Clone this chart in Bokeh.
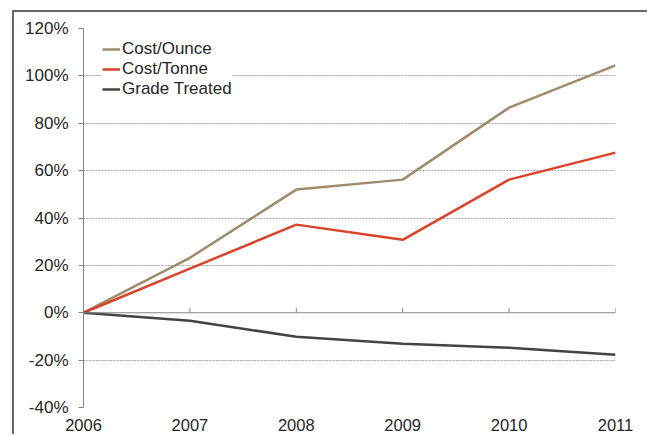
from bokeh.plotting import figure
from bokeh.models import Span, Legend, LegendItem, FixedTicker
from bokeh.embed import file_html
from bokeh.resources import INLINE

years = [2006, 2007, 2008, 2009, 2010, 2011]
cost_ounce = [0, 23.2, 52.0, 56.2, 86.6, 104.4]
cost_tonne = [0, 18.6, 37.2, 30.8, 56.2, 67.6]
grade_treated = [0, -3.4, -10.1, -13.1, -14.8, -17.7]
y_ticks = [-40, -20, 0, 20, 40, 60, 80, 100, 120]
y_tick_labels = {v: f"{v}%" for v in y_ticks}
series_names = ["Cost/Ounce", "Cost/Tonne", "Grade Treated"]
colors = ["#a08c6c", "#d8432a", "#434343"]

FONT = "Liberation Sans"

p = figure(width=635, height=424, output_backend="svg", toolbar_location=None,
           x_range=(2006, 2011), y_range=(-40, 120),
           min_border_left=69, min_border_right=34, min_border_top=16, min_border_bottom=29)
p.styles = {"margin-left": "12px", "margin-top": "10px",
            "border-top": "2px solid #666666", "border-left": "2px solid #666666"}
p.outline_line_color = None
p.background_fill_color = "white"

# grid
p.xgrid.grid_line_color = None
p.ygrid.ticker = FixedTicker(ticks=[v for v in y_ticks if v != 0])
p.ygrid.grid_line_color = "#a6a6a6"
p.ygrid.grid_line_dash = "2 1"
p.ygrid.grid_line_width = 1

# y axis
p.yaxis.ticker = FixedTicker(ticks=y_ticks)
p.yaxis.major_label_overrides = y_tick_labels
p.yaxis.axis_line_color = "#868686"
p.yaxis.major_tick_line_color = "#868686"
p.yaxis.major_tick_in = 0
p.yaxis.major_tick_out = 5
p.yaxis.minor_tick_line_color = None
p.yaxis.major_label_standoff = 10
p.yaxis.major_label_text_font = FONT
p.yaxis.major_label_text_font_size = "17px"
p.yaxis.major_label_text_color = "#262626"

# x axis: labels only at bottom
p.xaxis.ticker = FixedTicker(ticks=years)
p.xaxis.axis_line_color = None
p.xaxis.major_tick_line_color = None
p.xaxis.minor_tick_line_color = None
p.xaxis.major_label_standoff = 5
p.xaxis.major_label_text_font = FONT
p.xaxis.major_label_text_font_size = "16.5px"
p.xaxis.major_label_text_color = "#262626"

# zero line with upward ticks
p.add_layout(Span(location=0, dimension="width", line_color="#868686", line_width=1))
tick_years = years[1:]
p.segment(x0=tick_years, y0=[0] * len(tick_years), x1=tick_years, y1=[2.1] * len(tick_years),
          line_color="#868686", line_width=1)

renderers = []
for name, vals, c in zip(series_names, [cost_ounce, cost_tonne, grade_treated], colors):
    r = p.line(years, vals, line_color=c, line_width=2.5)
    renderers.append((name, r))

legend = Legend(items=[LegendItem(label=n, renderers=[r]) for n, r in renderers],
                location=(19, 308))
legend.background_fill_color = "white"
legend.background_fill_alpha = 1
legend.border_line_color = None
legend.padding = 4
legend.margin = 0
legend.spacing = 0
legend.glyph_width = 18
legend.glyph_height = 20
legend.label_height = 20
legend.label_standoff = 2
legend.label_text_font = FONT
legend.label_text_font_size = "17px"
legend.label_text_color = "#262626"
p.add_layout(legend)

open("out.html", "w").write(file_html(p, INLINE))
